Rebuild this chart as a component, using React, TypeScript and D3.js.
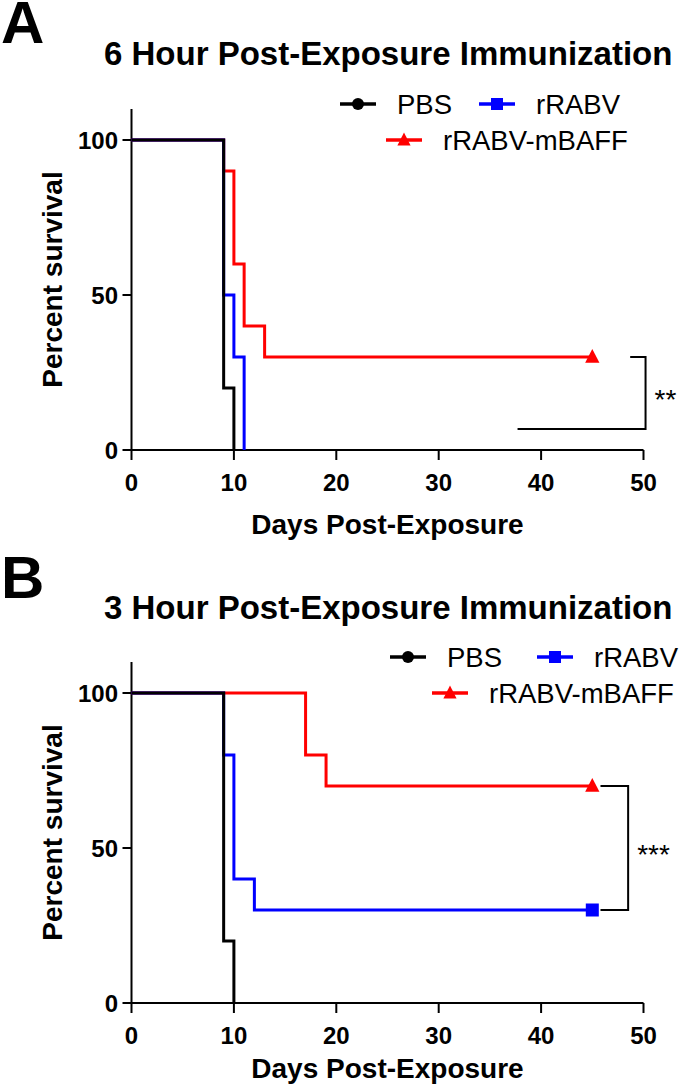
import React from 'react';
import * as d3 from 'd3';

// ---------- data ----------
const groups = ['PBS', 'rRABV', 'rRABV-mBAFF'];
const groupColors = ['#000000', '#0000ff', '#ff0000'];
const groupMarkers = ['circle', 'square', 'triangle'];
const xTicks = [0, 10, 20, 30, 40, 50];
const yTicks = [0, 50, 100];

// Panel A: 6 hour post-exposure immunization
const aPbsDays = [0, 9, 10];
const aPbsSurv = [100, 20, 0];
const aRabvDays = [0, 9, 10, 11];
const aRabvSurv = [100, 50, 30, 0];
const aBaffDays = [0, 9, 10, 11, 13, 45];
const aBaffSurv = [100, 90, 60, 40, 30, 30];

// Panel B: 3 hour post-exposure immunization
const bPbsDays = [0, 9, 10];
const bPbsSurv = [100, 20, 0];
const bRabvDays = [0, 9, 10, 12, 45];
const bRabvSurv = [100, 80, 40, 30, 30];
const bBaffDays = [0, 17, 19, 45];
const bBaffSurv = [100, 80, 70, 70];

const FONT = "'Liberation Sans', Arial, Helvetica, sans-serif";

type Series = { days: number[]; surv: number[] };

type PanelCfg = {
  letter: string;
  title: string;
  series: Series[];
  sig: string;
  sigTop: number;
  sigBottom: number;
  sigLeftTop: number;
  sigLeftBottom: number;
  sigRight: number;
  layout: {
    y0: number;
    letterY: number;
    titleY: number;
    leg1Y: number;
    leg2Y: number;
    leg1X: number;
    leg1X2: number;
    leg2X: number;
    xTitleY: number;
  };
};

const panels: PanelCfg[] = [
  {
    letter: 'A',
    title: '6 Hour Post-Exposure Immunization',
    series: [
      { days: aPbsDays, surv: aPbsSurv },
      { days: aRabvDays, surv: aRabvSurv },
      { days: aBaffDays, surv: aBaffSurv },
    ],
    sig: '**',
    sigTop: 30,
    sigBottom: 6.8,
    sigLeftTop: 48.7,
    sigLeftBottom: 37.7,
    sigRight: 50.2,
    layout: {
      y0: 450, letterY: 43, titleY: 65, leg1Y: 104, leg2Y: 140,
      leg1X: 340, leg1X2: 479, leg2X: 386, xTitleY: 534,
    },
  },
  {
    letter: 'B',
    title: '3 Hour Post-Exposure Immunization',
    series: [
      { days: bPbsDays, surv: bPbsSurv },
      { days: bRabvDays, surv: bRabvSurv },
      { days: bBaffDays, surv: bBaffSurv },
    ],
    sig: '***',
    sigTop: 70,
    sigBottom: 30,
    sigLeftTop: 45.8,
    sigLeftBottom: 45.8,
    sigRight: 48.5,
    layout: {
      y0: 1003, letterY: 598, titleY: 619, leg1Y: 657, leg2Y: 693,
      leg1X: 390, leg1X2: 537, leg2X: 432, xTitleY: 1078,
    },
  },
];

const x = d3.scaleLinear().domain([0, 50]).range([131.5, 643.5]);

function Marker({ kind, cx, cy, color, size }: { kind: string; cx: number; cy: number; color: string; size: number }) {
  if (kind === 'circle') return <circle cx={cx} cy={cy} r={size / 2} fill={color} />;
  if (kind === 'square')
    return <rect x={cx - size / 2} y={cy - size / 2} width={size} height={size} fill={color} />;
  const h = size;
  return (
    <path
      d={`M${cx},${cy - h * 0.62} L${cx + size * 0.55},${cy + h * 0.45} L${cx - size * 0.55},${cy + h * 0.45} Z`}
      fill={color}
    />
  );
}

function Panel({ cfg }: { cfg: PanelCfg }) {
  const L = cfg.layout;
  const y = d3.scaleLinear().domain([0, 100]).range([L.y0, L.y0 - 310]);
  const line = d3
    .line<[number, number]>()
    .x((d) => x(d[0]))
    .y((d) => y(d[1]))
    .curve(d3.curveStepAfter);
  const order = [2, 1, 0];
  const yTop = y(110);
  const sigX = x(cfg.sigRight);
  return (
    <g>
      <text x={1} y={L.letterY} fontFamily={FONT} fontWeight="bold" fontSize={60} fill="#000">
        {cfg.letter}
      </text>
      <text x={104} y={L.titleY} fontFamily={FONT} fontWeight="bold" fontSize={33} fill="#000">
        {cfg.title}
      </text>

      {/* legend */}
      {[0, 1, 2].map((i) => {
        const lx = i === 0 ? L.leg1X : i === 1 ? L.leg1X2 : L.leg2X;
        const ly = i === 2 ? L.leg2Y : L.leg1Y;
        return (
          <g key={i}>
            <line x1={lx} x2={lx + 36} y1={ly} y2={ly} stroke={groupColors[i]} strokeWidth={3.5} />
            <Marker kind={groupMarkers[i]} cx={lx + 18} cy={ly} color={groupColors[i]} size={12} />
            <text x={lx + 57} y={ly + 10} fontFamily={FONT} fontSize={27.5} fill="#000">
              {groups[i]}
            </text>
          </g>
        );
      })}

      {/* axes */}
      <line x1={x(0)} x2={x(0)} y1={yTop} y2={L.y0} stroke="#000" strokeWidth={2} />
      <line x1={x(0)} x2={x(50)} y1={L.y0} y2={L.y0} stroke="#000" strokeWidth={2} />
      {yTicks.map((t) => (
        <g key={'y' + t}>
          <line x1={x(0) - 9} x2={x(0)} y1={y(t)} y2={y(t)} stroke="#000" strokeWidth={2} />
          <text x={118} y={y(t) + 8.5} textAnchor="end" fontFamily={FONT} fontWeight="bold" fontSize={24} fill="#000">
            {t}
          </text>
        </g>
      ))}
      {xTicks.map((t) => (
        <g key={'x' + t}>
          <line x1={x(t)} x2={x(t)} y1={L.y0} y2={L.y0 + 10} stroke="#000" strokeWidth={2} />
          <text x={x(t)} y={L.y0 + 41} textAnchor="middle" fontFamily={FONT} fontWeight="bold" fontSize={24} fill="#000">
            {t}
          </text>
        </g>
      ))}
      <text
        x={(x(0) + x(50)) / 2}
        y={L.xTitleY}
        textAnchor="middle"
        fontFamily={FONT}
        fontWeight="bold"
        fontSize={28}
        fill="#000"
      >
        Days Post-Exposure
      </text>
      <text
        transform={`translate(62,${(yTop + L.y0) / 2}) rotate(-90)`}
        textAnchor="middle"
        fontFamily={FONT}
        fontWeight="bold"
        fontSize={28}
        fill="#000"
      >
        Percent survival
      </text>

      {/* survival curves */}
      {order.map((i) => {
        const s = cfg.series[i];
        const pts: [number, number][] = s.days.map((d, k) => [d, s.surv[k]]);
        const last = pts[pts.length - 1];
        return (
          <g key={'s' + i}>
            <path d={line(pts) || ''} fill="none" stroke={groupColors[i]} strokeWidth={3} />
            {last[1] > 0 && (
              <Marker kind={groupMarkers[i]} cx={x(last[0])} cy={y(last[1])} color={groupColors[i]} size={13} />
            )}
          </g>
        );
      })}

      {/* significance bracket */}
      <path
        d={`M${x(cfg.sigLeftTop)},${y(cfg.sigTop)} H${sigX} V${y(cfg.sigBottom)} H${x(cfg.sigLeftBottom)}`}
        fill="none"
        stroke="#000"
        strokeWidth={2}
      />
      <text
        x={sigX + 9}
        y={(y(cfg.sigTop) + y(cfg.sigBottom)) / 2 + 16}
        fontFamily={FONT}
        fontSize={28}
        fill="#000"
      >
        {cfg.sig}
      </text>
    </g>
  );
}

export default function App() {
  return (
    <svg
      width={680}
      height={1085}
      style={{ position: 'absolute', left: 0, top: 0, background: '#fff' }}
      xmlns="http://www.w3.org/2000/svg"
    >
      <rect x={0} y={0} width={680} height={1085} fill="#fff" />
      {panels.map((p) => (
        <Panel key={p.letter} cfg={p} />
      ))}
    </svg>
  );
}
